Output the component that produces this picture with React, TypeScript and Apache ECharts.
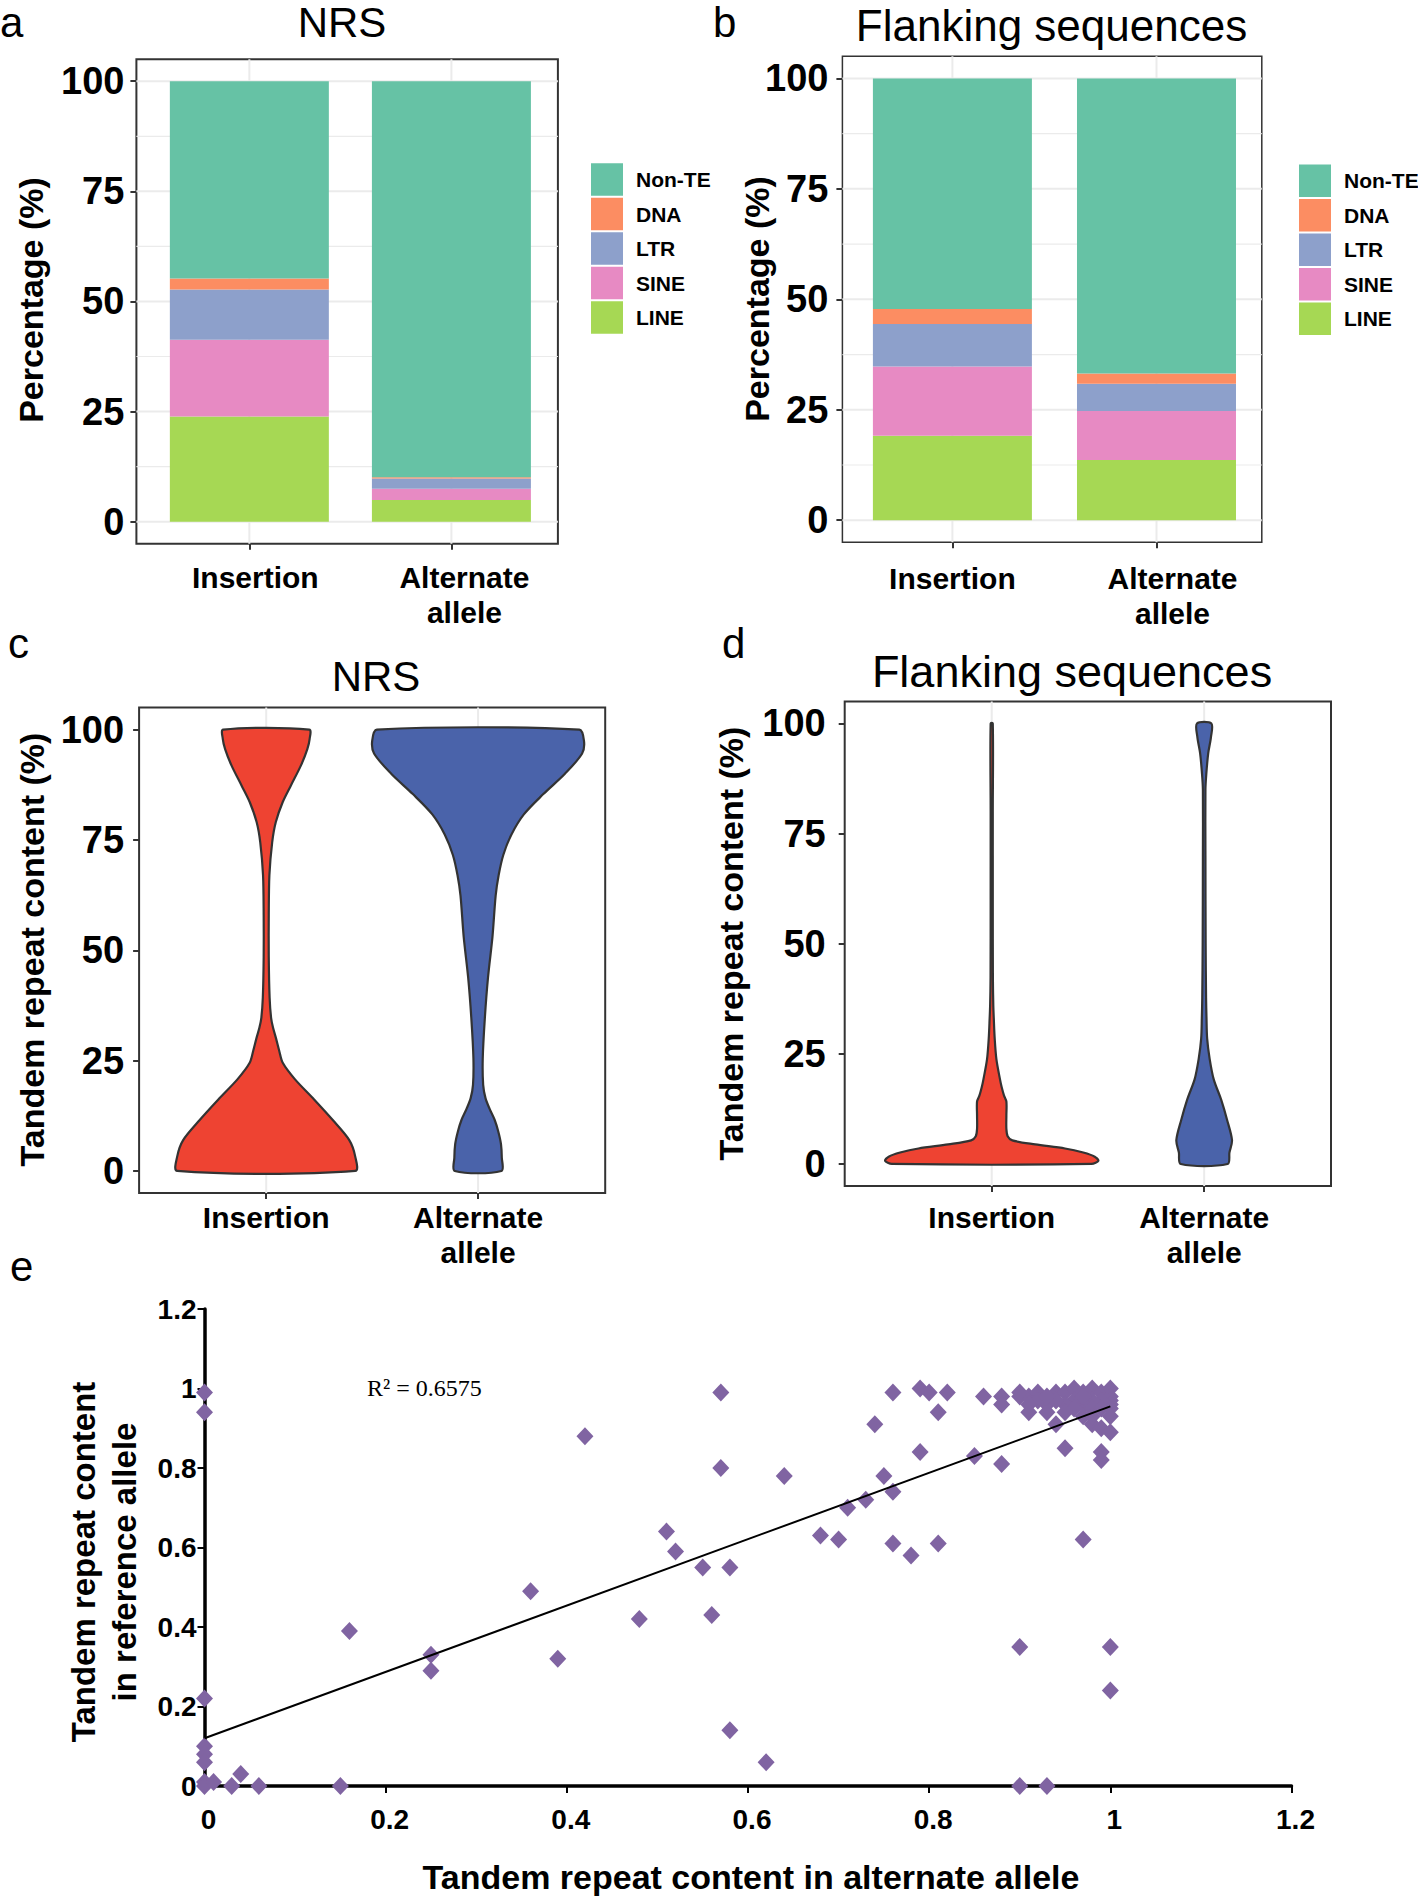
import React, { useEffect, useRef } from 'react';
import * as echarts from 'echarts';

const FONT = "'Liberation Sans', Arial, Helvetica, sans-serif";
const SERIF = "'Liberation Serif', 'Times New Roman', Times, serif";

// ---------- shared categories / ticks ----------
const CATEGORIES = ['Insertion', 'Alternate\nallele'];
const CATEGORY_X = [1, 2];
const PCT_TICKS = [0, 25, 50, 75, 100];
const PCT_MINOR = [12.5, 37.5, 62.5, 87.5];

// ---------- panels a / b : TE composition (%), [Insertion, Alternate allele] ----------
const TE_STACK_ORDER = ['LINE', 'SINE', 'LTR', 'DNA', 'Non-TE'];
const TE_LEGEND_ORDER = ['Non-TE', 'DNA', 'LTR', 'SINE', 'LINE'];
const TE_COLORS: Record<string, string> = {
  'Non-TE': '#66C2A5',
  DNA: '#FC8D62',
  LTR: '#8DA0CB',
  SINE: '#E78AC3',
  LINE: '#A6D854',
};

const NRS_LINE = [23.9, 4.9];
const NRS_SINE = [17.4, 2.6];
const NRS_LTR = [11.4, 2.3];
const NRS_DNA = [2.5, 0.3];
const NRS_NONTE = [44.8, 89.9];

const FLANK_LINE = [19.1, 13.6];
const FLANK_SINE = [15.7, 11.1];
const FLANK_LTR = [9.6, 6.2];
const FLANK_DNA = [3.4, 2.3];
const FLANK_NONTE = [52.2, 66.8];

// ---------- panels c / d : violin outlines [tandem repeat %, half width in category units] ----------
const VIOLIN_NRS_INSERTION: [number, number][] = [
  [0, 0.42], [3.3, 0.42], [7, 0.392], [11.6, 0.313], [16.2, 0.226], [20.8, 0.135], [24.5, 0.078],
  [27.3, 0.061], [30.1, 0.046], [32.5, 0.032], [34.7, 0.023], [39.3, 0.016], [48.5, 0.012], [58, 0.012],
  [67, 0.015], [74.4, 0.028], [79, 0.045], [83.6, 0.078], [87.3, 0.116], [91.9, 0.164], [95.6, 0.194],
  [97.9, 0.205], [100, 0.203],
];
const VIOLIN_NRS_ALTERNATE: [number, number][] = [
  [0, 0.11], [3, 0.112], [6.1, 0.108], [9, 0.095], [11.6, 0.078], [14, 0.055], [16.5, 0.035],
  [19.5, 0.024], [25.5, 0.022], [34.7, 0.032], [43.9, 0.047], [53.1, 0.068], [62.4, 0.083], [67, 0.097],
  [71.6, 0.119], [76.2, 0.157], [80.8, 0.216], [85.4, 0.308], [90, 0.41], [94.6, 0.491], [97.4, 0.5],
  [100, 0.478],
];
const VIOLIN_FLANK_INSERTION: [number, number][] = [
  [0, 0.47], [0.74, 0.502], [1.66, 0.485], [2.59, 0.431], [3.51, 0.345], [4.44, 0.205], [5.36, 0.097],
  [6.3, 0.075], [8, 0.069], [11, 0.069], [14.2, 0.069], [15.5, 0.058], [17.4, 0.047], [19.2, 0.039],
  [23.8, 0.022], [28.5, 0.014], [33.1, 0.0097], [35.9, 0.0075], [42.3, 0.0055], [60, 0.005],
  [80, 0.005], [100, 0.005],
];
const VIOLIN_FLANK_ALTERNATE: [number, number][] = [
  [0, 0.11], [2.6, 0.119], [5.4, 0.131], [10, 0.108], [14.6, 0.08], [19.2, 0.045], [23.8, 0.026],
  [28.5, 0.014], [33.1, 0.011], [37.7, 0.009], [50, 0.007], [70, 0.006], [85, 0.006], [88.5, 0.01],
  [93.2, 0.019], [96.9, 0.032], [100, 0.034],
];
const VIOLIN_RED = '#EE4332';
const VIOLIN_BLUE = '#4A63AA';

// ---------- panel e : scatter [alternate allele, reference allele] ----------
const SCATTER_POINTS: [number, number][] = [
  [0, 0.99], [0, 0.94], [0, 0.22], [0, 0.10], [0, 0.08], [0, 0.06], [0, 0.01], [0, 0],
  [0.01, 0.01], [0.03, 0], [0.04, 0.03], [0.06, 0], [0.15, 0], [0.16, 0.39], [0.25, 0.33],
  [0.25, 0.29], [0.36, 0.49], [0.39, 0.32], [0.42, 0.88], [0.48, 0.42], [0.51, 0.64], [0.52, 0.59],
  [0.55, 0.55], [0.56, 0.43], [0.57, 0.99], [0.57, 0.80], [0.58, 0.55], [0.58, 0.14], [0.62, 0.06],
  [0.64, 0.78], [0.68, 0.63], [0.70, 0.62], [0.71, 0.70], [0.73, 0.72], [0.74, 0.91], [0.75, 0.78],
  [0.76, 0.99], [0.76, 0.74], [0.76, 0.61], [0.78, 0.58], [0.79, 1.0], [0.79, 0.84], [0.80, 0.99],
  [0.81, 0.94], [0.81, 0.61], [0.82, 0.99], [0.85, 0.83], [0.86, 0.98], [0.88, 0.98], [0.88, 0.96],
  [0.88, 0.81], [0.90, 0.98], [0.90, 0.35], [0.90, 0], [0.91, 0.98], [0.91, 0.94], [0.93, 0.96],
  [0.93, 0.94], [0.93, 0], [0.94, 0.99], [0.94, 0.91], [0.95, 0.85], [0.97, 0.62], [0.98, 0.91],
  [0.99, 0.84], [0.99, 0.82], [0.99, 0.90], [1.0, 0.89], [1.0, 0.35], [1.0, 0.24],
  [0.90, 0.99], [0.92, 0.99], [0.95, 0.99], [0.96, 1.0], [0.97, 0.99], [0.98, 1.0], [0.99, 0.99],
  [1.0, 1.0], [1.0, 0.98], [1.0, 0.97], [1.0, 0.96], [1.0, 0.95], [0.99, 0.97], [0.98, 0.97],
  [0.97, 0.96], [0.96, 0.97], [0.95, 0.96], [0.94, 0.97], [0.92, 0.97], [0.91, 0.96], [0.93, 0.98],
  [0.97, 0.98], [0.98, 0.95], [0.96, 0.95], [0.99, 0.95], [0.97, 0.93], [0.95, 0.94], [1.0, 0.93],
  [0.98, 0.93],
];
const TREND_X = [0, 1];
const TREND_Y = [0.12, 0.955];
const R2_LABEL = 'R² = 0.6575';

// ---------- layout (pixels) ----------
const GRID_COLOR = '#EBEBEB';
const BORDER_COLOR = '#333333';
const PANELS = [
  { left: 136.4, top: 59.2, width: 421.5, height: 484.5, xMin: 0.441, xMax: 2.527, border: 2, xMargin: 16, yMargin: 12, labelShift: [6, 13] },
  { left: 842.4, top: 56.3, width: 419.4, height: 486, xMin: 0.461, xMax: 2.516, border: 1.5, xMargin: 19, yMargin: 14, labelShift: [0, 16] },
  { left: 139.1, top: 707.6, width: 466.1, height: 485.4, xMin: 0.4, xMax: 2.6, border: 2, xMargin: 7, yMargin: 15, labelShift: [0, 0] },
  { left: 844.7, top: 701.4, width: 486.3, height: 484.6, xMin: 0.308, xMax: 2.597, border: 2, xMargin: 14, yMargin: 19, labelShift: [0, 0] },
];
const SCATTER_GRID = { left: 204.5, top: 1309, width: 1087, height: 477 };
const BAR_PX = 159;

function pctAxes(i: number) {
  const p = PANELS[i];
  const tickStyle = { color: BORDER_COLOR, width: 2 };
  const catText = { fontFamily: FONT, fontSize: 30, fontWeight: 'bold', color: '#000', lineHeight: 35 };
  return {
    x: {
      type: 'value', gridIndex: i, min: p.xMin, max: p.xMax,
      axisLine: { show: false, onZero: false },
      splitLine: { show: false },
      axisTick: { show: true, customValues: CATEGORY_X, length: 6, lineStyle: tickStyle },
      axisLabel: {
        customValues: CATEGORY_X,
        formatter: (v: number) => {
          const k = Math.round(v) - 1;
          const name = CATEGORIES[k];
          if (!name) return '';
          return name.split('\n').map((l) => `{c${k}|${l}}`).join('\n');
        },
        ...catText,
        margin: p.xMargin,
        rich: {
          c0: { ...catText, padding: [0, 0, 0, 2 * p.labelShift[0]] },
          c1: { ...catText, padding: [0, 0, 0, 2 * p.labelShift[1]] },
        },
      },
    },
    y: {
      type: 'value', gridIndex: i, min: -5, max: 105,
      axisLine: { show: false, onZero: false },
      splitLine: { show: false },
      axisTick: { show: true, customValues: PCT_TICKS, length: 6, lineStyle: tickStyle },
      axisLabel: {
        customValues: PCT_TICKS,
        fontFamily: FONT, fontSize: 38, fontWeight: 'bold', color: '#000', margin: p.yMargin,
      },
    },
  };
}

function gridLinesSeries(i: number, hLines: [number, number][], vLines: [number, number][]) {
  const data = [...hLines.map(([v, w]) => [0, v, w]), ...vLines.map(([v, w]) => [1, v, w])];
  return {
    type: 'custom', xAxisIndex: i, yAxisIndex: i, z: 1, silent: true,
    data,
    renderItem: (params: any, api: any) => {
      const cs = params.coordSys;
      const orient = api.value(0);
      const v = api.value(1);
      const w = api.value(2);
      if (orient === 0) {
        const y = api.coord([1.5, v])[1];
        return { type: 'line', shape: { x1: cs.x, y1: y, x2: cs.x + cs.width, y2: y }, style: { stroke: GRID_COLOR, lineWidth: w } };
      }
      const x = api.coord([v, 50])[0];
      return { type: 'line', shape: { x1: x, y1: cs.y, x2: x, y2: cs.y + cs.height }, style: { stroke: GRID_COLOR, lineWidth: w } };
    },
  };
}

function stackedSeries(values: Record<string, number[]>, i: number) {
  return TE_STACK_ORDER.map((name, k) => ({
    type: 'custom', name, xAxisIndex: i, yAxisIndex: i, z: 2, silent: true,
    itemStyle: { color: TE_COLORS[name] },
    encode: { x: 0, y: [1, 2] },
    data: CATEGORY_X.map((x, c) => {
      let lo = 0;
      for (let j = 0; j < k; j++) lo += values[TE_STACK_ORDER[j]][c];
      return [x, lo, lo + values[name][c]];
    }),
    renderItem: (params: any, api: any) => {
      const x = api.value(0);
      const top = api.coord([x, api.value(2)]);
      const bot = api.coord([x, api.value(1)]);
      return {
        type: 'rect',
        shape: { x: top[0] - BAR_PX / 2, y: top[1], width: BAR_PX, height: bot[1] - top[1] },
        style: { fill: TE_COLORS[name] },
      };
    },
  }));
}

function violinSeries(i: number, cx: number, profile: [number, number][], color: string) {
  return {
    type: 'custom', xAxisIndex: i, yAxisIndex: i, z: 2, silent: true,
    data: [[cx, 50]],
    renderItem: (params: any, api: any) => {
      const c = api.value(0);
      const left = profile.map(([v, hw]) => api.coord([c - hw, v]));
      const right = profile.slice().reverse().map(([v, hw]) => api.coord([c + hw, v]));
      return {
        type: 'polygon',
        shape: { points: left.concat(right), smooth: 0.3 },
        style: { fill: color, stroke: '#333333', lineWidth: 2.2, lineJoin: 'round' },
      };
    },
  };
}

function legendFor(left: number, top: number) {
  return {
    orient: 'vertical', left, top, padding: 0,
    itemWidth: 32, itemHeight: 32.5, itemGap: 2, icon: 'rect',
    selectedMode: false,
    data: TE_LEGEND_ORDER,
    textStyle: { fontFamily: FONT, fontSize: 21, fontWeight: 'bold', color: '#000', padding: [0, 0, 0, 8] },
  };
}

type T = { text: string; x: number; y: number; size: number; bold?: boolean; rot?: boolean; align?: string; family?: string };
const TEXTS: T[] = [
  { text: 'a', x: 0, y: 22, size: 42, align: 'left' },
  { text: 'b', x: 713, y: 22, size: 42, align: 'left' },
  { text: 'c', x: 8, y: 643, size: 42, align: 'left' },
  { text: 'd', x: 722, y: 643, size: 42, align: 'left' },
  { text: 'e', x: 10, y: 1266, size: 42, align: 'left' },
  { text: 'NRS', x: 342, y: 22, size: 42 },
  { text: 'Flanking sequences', x: 1051.5, y: 25, size: 44 },
  { text: 'NRS', x: 376, y: 676, size: 42 },
  { text: 'Flanking sequences', x: 1072, y: 671, size: 45 },
  { text: 'Percentage (%)', x: 31, y: 300, size: 34, bold: true, rot: true },
  { text: 'Percentage (%)', x: 756.5, y: 299, size: 34, bold: true, rot: true },
  { text: 'Tandem repeat content (%)', x: 31.5, y: 949.5, size: 34, bold: true, rot: true },
  { text: 'Tandem repeat content (%)', x: 731, y: 943.5, size: 34, bold: true, rot: true },
  { text: 'Tandem repeat content', x: 83, y: 1562, size: 33, bold: true, rot: true },
  { text: 'in reference allele', x: 124.5, y: 1562, size: 33, bold: true, rot: true },
  { text: 'Tandem repeat content in alternate allele', x: 751, y: 1877, size: 34, bold: true },
  { text: R2_LABEL, x: 367, y: 1387.5, size: 24, align: 'left', family: SERIF },
];

function buildOption() {
  const a = pctAxes(0), b = pctAxes(1), c = pctAxes(2), d = pctAxes(3);
  const nrs = { LINE: NRS_LINE, SINE: NRS_SINE, LTR: NRS_LTR, DNA: NRS_DNA, 'Non-TE': NRS_NONTE };
  const flank = { LINE: FLANK_LINE, SINE: FLANK_SINE, LTR: FLANK_LTR, DNA: FLANK_DNA, 'Non-TE': FLANK_NONTE };
  const hMajor = PCT_TICKS.map((v) => [v, 2] as [number, number]);
  const hMinor = PCT_MINOR.map((v) => [v, 1.2] as [number, number]);
  const vMajor = CATEGORY_X.map((v) => [v, 2] as [number, number]);

  const eAxisLine = { onZero: false, lineStyle: { color: '#000', width: 3.5 } };
  const eTick = { show: true, length: 7, lineStyle: { color: '#000', width: 2 } };
  const eLabel = { fontFamily: FONT, fontSize: 28, fontWeight: 'bold', color: '#000' };

  return {
    animation: false,
    backgroundColor: '#ffffff',
    textStyle: { fontFamily: FONT },
    grid: [
      ...PANELS.map((p) => ({
        left: p.left, top: p.top, width: p.width, height: p.height,
        show: true, borderColor: BORDER_COLOR, borderWidth: p.border, backgroundColor: '#fff', containLabel: false,
      })),
      { ...SCATTER_GRID, show: false, containLabel: false },
    ],
    xAxis: [
      a.x, b.x, c.x, d.x,
      {
        type: 'value', gridIndex: 4, min: 0, max: 1.2, interval: 0.2,
        axisLine: eAxisLine, axisTick: eTick, splitLine: { show: false },
        axisLabel: { ...eLabel, margin: 19, padding: [0, 0, 0, 8] },
      },
    ],
    yAxis: [
      a.y, b.y, c.y, d.y,
      {
        type: 'value', gridIndex: 4, min: 0, max: 1.2, interval: 0.2,
        axisLine: eAxisLine, axisTick: eTick, splitLine: { show: false },
        axisLabel: { ...eLabel, margin: 8, padding: [0, 0, 6, 0] },
      },
    ],
    legend: [legendFor(591, 163.3), legendFor(1299, 164.4)],
    series: [
      gridLinesSeries(0, [...hMajor, ...hMinor], vMajor),
      gridLinesSeries(1, [...hMajor, ...hMinor], vMajor),
      gridLinesSeries(2, [], vMajor),
      gridLinesSeries(3, [], vMajor),
      ...stackedSeries(nrs, 0),
      ...stackedSeries(flank, 1),
      violinSeries(2, CATEGORY_X[0], VIOLIN_NRS_INSERTION, VIOLIN_RED),
      violinSeries(2, CATEGORY_X[1], VIOLIN_NRS_ALTERNATE, VIOLIN_BLUE),
      violinSeries(3, CATEGORY_X[0], VIOLIN_FLANK_INSERTION, VIOLIN_RED),
      violinSeries(3, CATEGORY_X[1], VIOLIN_FLANK_ALTERNATE, VIOLIN_BLUE),
      {
        type: 'scatter', xAxisIndex: 4, yAxisIndex: 4, z: 2, silent: true,
        symbol: 'diamond', symbolSize: [17, 18],
        itemStyle: { color: '#8064A2', opacity: 1 },
        data: SCATTER_POINTS,
      },
      {
        type: 'line', xAxisIndex: 4, yAxisIndex: 4, z: 3, silent: true,
        symbol: 'none', lineStyle: { color: '#000', width: 2 },
        data: TREND_X.map((x, i) => [x, TREND_Y[i]]),
      },
    ],
    graphic: TEXTS.map((t) => ({
      type: 'text', x: t.x, y: t.y, rotation: t.rot ? Math.PI / 2 : 0, silent: true,
      style: {
        text: t.text, fill: '#000',
        fontFamily: t.family || FONT, fontSize: t.size, fontWeight: t.bold ? 'bold' : 'normal',
        align: t.align || 'center', verticalAlign: 'middle',
      },
    })),
  };
}

export default function App() {
  const ref = useRef<HTMLDivElement>(null);
  useEffect(() => {
    const chart = echarts.init(ref.current as HTMLDivElement, undefined, { renderer: 'svg' });
    chart.setOption(buildOption() as any);
    return () => chart.dispose();
  }, []);
  return (
    <div
      ref={ref}
      style={{ position: 'absolute', left: 0, top: 0, width: 1418, height: 1898, background: '#fff' }}
    />
  );
}
